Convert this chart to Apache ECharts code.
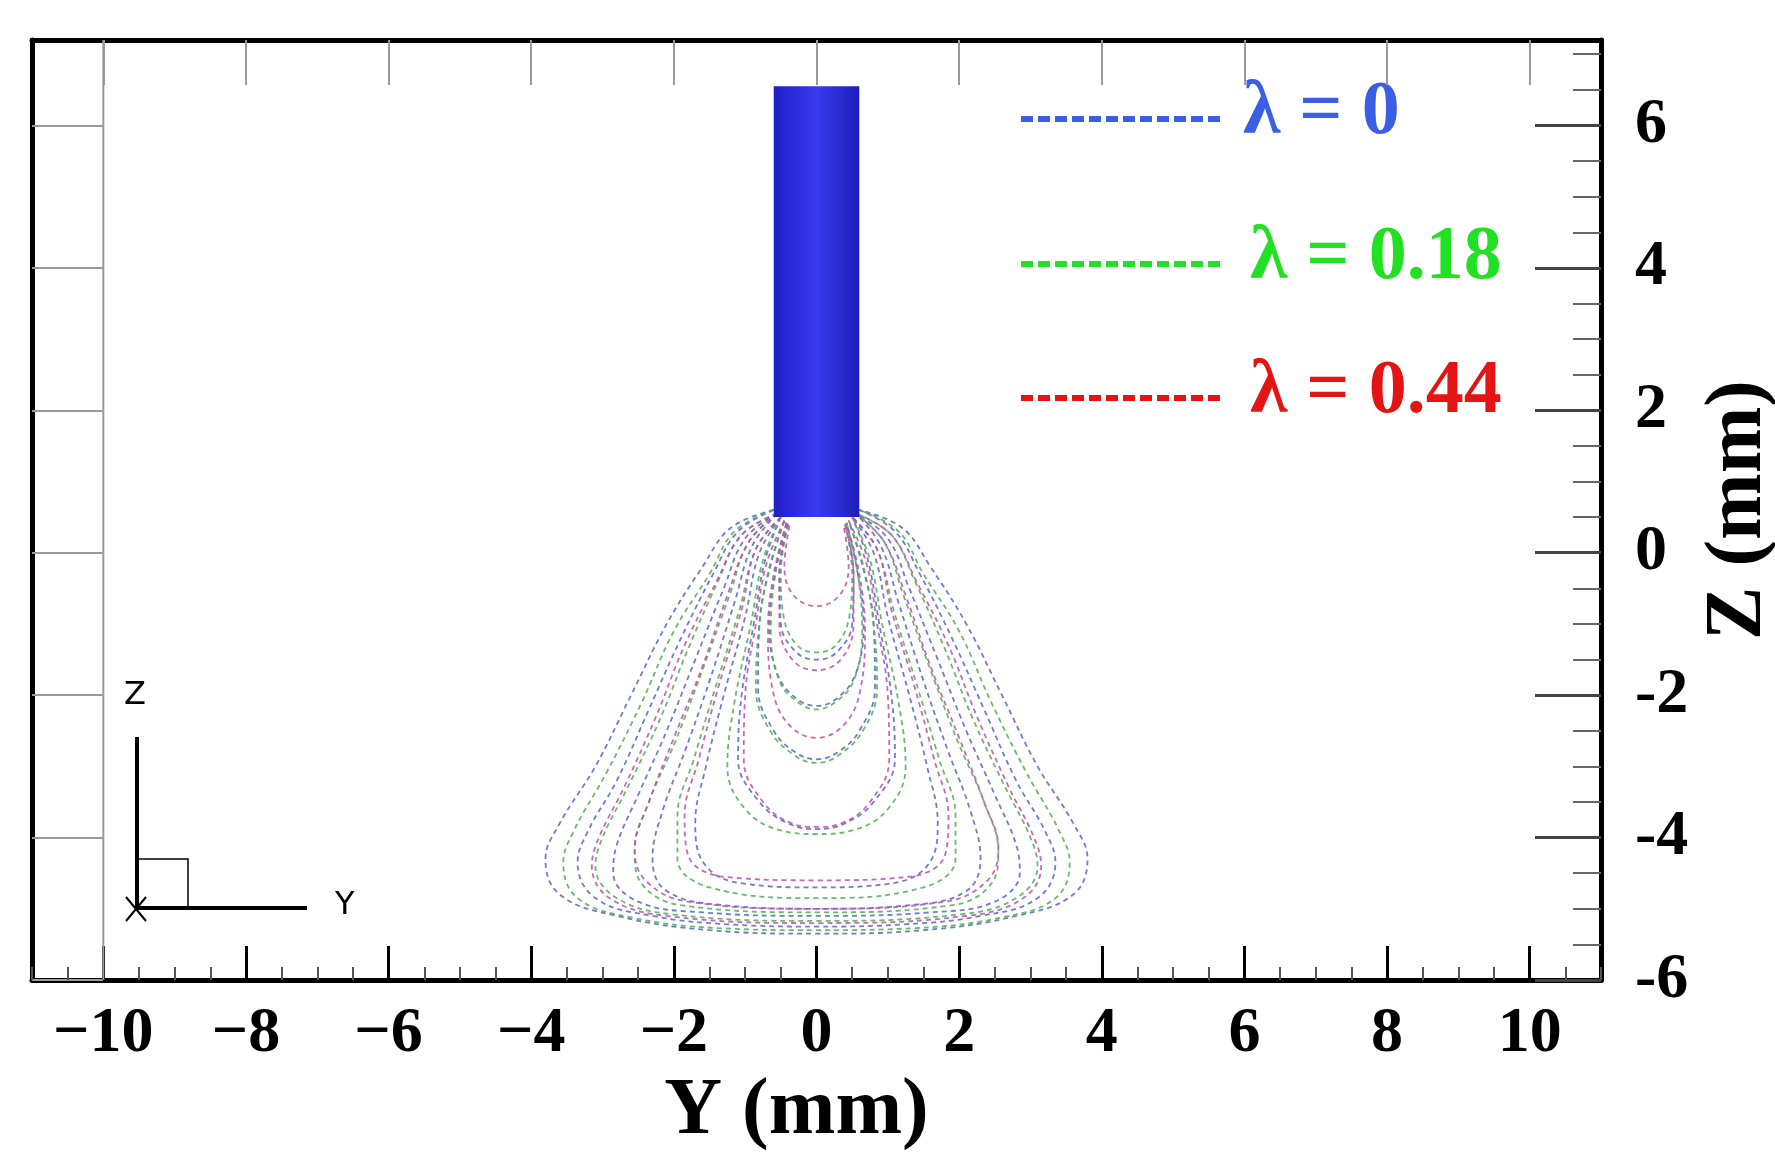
<!DOCTYPE html>
<html>
<head>
<meta charset="utf-8">
<script src="https://cdn.jsdelivr.net/npm/echarts@6/dist/echarts.min.js"></script>
<style>html,body{margin:0;padding:0;background:#fff}#main{width:1775px;height:1164px}</style>
</head>
<body>
<div id="main"></div>
<script>
// tick positions
var yTicks = [-10, -8, -6, -4, -2, 0, 2, 4, 6, 8, 10];
var zTicks = [-6, -4, -2, 0, 2, 4, 6];
var yMinor = [];
var zMinor = [];
for (let v = -11; v <= 11; v += 0.5) if (v % 2 != 0) yMinor.push(v);
for (let v = -6; v <= 7; v += 0.5) if (v % 2 != 0) zMinor.push(v);

// electrode rod (Y range, Z range)
var rodY = [-0.6, 0.6];
var rodZ = [0.5, 6.55];

// right half of each streamline, top -> bottom centre
var lam0 = [
	[[0.6,0.6],[1.2,0.35],[1.6,-0.2],[2.1,-1.0],[2.6,-2.0],[3.1,-3.0],[3.6,-3.8],[3.8,-4.3],[3.6,-4.8],[2.8,-5.1],[1.5,-5.3],[0,-5.35]],
	[[0.6,0.6],[1.1,0.3],[1.45,-0.3],[1.9,-1.2],[2.35,-2.2],[2.8,-3.2],[3.2,-3.9],[3.35,-4.35],[3.1,-4.85],[2.3,-5.1],[1.2,-5.22],[0,-5.25]],
	[[0.55,0.55],[1.0,0.2],[1.3,-0.5],[1.7,-1.5],[2.1,-2.5],[2.5,-3.4],[2.8,-4.1],[2.85,-4.5],[2.5,-4.9],[1.6,-5.05],[0,-5.1]],
	[[0.55,0.55],[0.9,0.1],[1.15,-0.7],[1.5,-1.8],[1.85,-2.8],[2.15,-3.6],[2.3,-4.3],[2.1,-4.75],[1.3,-4.95],[0,-5.0]],
	[[0.5,0.5],[0.8,0.0],[1.0,-0.9],[1.3,-2.0],[1.55,-3.0],[1.7,-3.8],[1.55,-4.4],[1.0,-4.65],[0,-4.7]],
	[[0.5,0.5],[0.72,-0.1],[0.88,-1.0],[1.05,-2.0],[1.1,-2.9],[0.8,-3.5],[0.4,-3.8],[0,-3.88]],
	[[0.45,0.45],[0.65,-0.2],[0.8,-1.0],[0.82,-1.9],[0.6,-2.5],[0.3,-2.8],[0,-2.9]],
	[[0.42,0.42],[0.58,-0.3],[0.66,-1.0],[0.55,-1.7],[0.28,-2.05],[0,-2.15]],
	[[0.4,0.4],[0.52,-0.3],[0.5,-1.0],[0.28,-1.4],[0,-1.5]]
];
var lam018 = [
	[[0.6,0.6],[1.15,0.3],[1.5,-0.3],[2.0,-1.1],[2.45,-2.1],[2.95,-3.1],[3.4,-3.9],[3.55,-4.35],[3.35,-4.85],[2.6,-5.12],[1.4,-5.27],[0,-5.3]],
	[[0.55,0.55],[1.05,0.25],[1.38,-0.4],[1.8,-1.35],[2.2,-2.35],[2.65,-3.3],[3.0,-4.0],[3.1,-4.4],[2.8,-4.85],[2.0,-5.08],[0,-5.17]],
	[[0.55,0.55],[0.95,0.15],[1.22,-0.6],[1.6,-1.65],[1.98,-2.65],[2.35,-3.5],[2.55,-4.2],[2.45,-4.65],[1.9,-4.95],[0,-5.05]],
	[[0.5,0.5],[0.85,0.05],[1.08,-0.8],[1.42,-1.9],[1.72,-2.9],[1.95,-3.7],[1.95,-4.3],[1.5,-4.7],[0,-4.85]],
	[[0.5,0.5],[0.75,-0.1],[0.92,-1.0],[1.15,-2.1],[1.25,-3.0],[1.0,-3.6],[0.5,-3.9],[0,-3.95]],
	[[0.45,0.45],[0.66,-0.2],[0.8,-1.0],[0.85,-1.9],[0.65,-2.5],[0.3,-2.85],[0,-2.95]],
	[[0.42,0.42],[0.58,-0.3],[0.64,-1.1],[0.52,-1.8],[0.26,-2.1],[0,-2.2]],
	[[0.4,0.4],[0.5,-0.3],[0.46,-0.9],[0.27,-1.3],[0,-1.4]]
];
var lam044 = [
	[[0.55,0.55],[1.05,0.25],[1.4,-0.4],[1.85,-1.3],[2.25,-2.3],[2.7,-3.3],[3.05,-4.0],[3.15,-4.4],[2.9,-4.85],[2.1,-5.1],[0,-5.2]],
	[[0.55,0.55],[0.95,0.15],[1.25,-0.6],[1.6,-1.6],[2.0,-2.6],[2.35,-3.5],[2.55,-4.15],[2.4,-4.6],[1.8,-4.9],[0,-5.0]],
	[[0.5,0.5],[0.85,0.05],[1.05,-0.8],[1.38,-1.9],[1.65,-2.9],[1.85,-3.7],[1.8,-4.25],[1.3,-4.55],[0,-4.6]],
	[[0.45,0.45],[0.7,-0.15],[0.85,-1.0],[1.0,-2.0],[1.02,-2.9],[0.75,-3.5],[0.35,-3.8],[0,-3.85]],
	[[0.42,0.42],[0.6,-0.3],[0.68,-1.1],[0.62,-1.9],[0.4,-2.4],[0,-2.6]],
	[[0.4,0.4],[0.52,-0.3],[0.52,-1.0],[0.34,-1.5],[0,-1.65]],
	[[0.38,0.38],[0.45,-0.2],[0.32,-0.6],[0,-0.75]]
];

var lamNames = ['λ = 0', 'λ = 0.18', 'λ = 0.44'];
var lineColors = ['#5565c8', '#4fae4f', '#c04fa8'];
var textColors = ['#3a5ee6', '#22e022', '#e41414'];

// mirror the half profile into a full U-shaped streamline
function fullCurve(half) {
	var left = half.map(function (p) { return [-p[0], p[1]]; });
	var right = half.slice(0, half.length - 1).reverse();
	return left.concat(right);
}

var series = [];
[lam0, lam018, lam044].forEach(function (set, k) {
	set.forEach(function (half) {
		series.push({
			type: 'line', xAxisIndex: 0, yAxisIndex: 0,
			data: fullCurve(half), smooth: 0.4, symbol: 'none', silent: true,
			lineStyle: { color: lineColors[k], width: 1.8, type: [5, 4], opacity: 0.85 }
		});
	});
});

series.push({
	type: 'custom', xAxisIndex: 0, yAxisIndex: 0,
	data: [[rodY[0], rodZ[0], rodY[1], rodZ[1]]],
	renderItem: function (params, api) {
		var p0 = api.coord([api.value(0), api.value(3)]);
		var p1 = api.coord([api.value(2), api.value(1)]);
		return {
			type: 'rect',
			shape: { x: p0[0], y: p0[1], width: p1[0] - p0[0], height: p1[1] - p0[1] },
			style: { fill: new echarts.graphic.LinearGradient(0, 0, 1, 0, [
				{ offset: 0, color: '#1e1ec8' }, { offset: 0.5, color: '#3a3af0' }, { offset: 1, color: '#1e1eb8' }]) }
		};
	},
	z: 5
});

// vertical gridline at Y = -10
series.push({
	type: 'line', xAxisIndex: 0, yAxisIndex: 0, symbol: 'none', silent: true,
	data: [[-10, -6], [-10, 7.2]], lineStyle: { color: '#9a9a9a', width: 2 }
});

var labelFont = { fontFamily: 'Liberation Serif', fontWeight: 'bold', fontSize: 64, color: '#000' };
var nameFont = { fontFamily: 'Liberation Serif', fontWeight: 'bold', fontSize: 80, color: '#000' };
var noLabel = { show: false };

var option = {
	animation: false,
	grid: { left: 32, right: 174, top: 40, bottom: 184, outerBoundsMode: 'none', containLabel: false },
	xAxis: [
		{
			type: 'value', min: -11, max: 11, position: 'bottom',
			axisLine: { onZero: false, lineStyle: { color: '#000', width: 5 } },
			axisTick: { inside: true, length: 34, customValues: yTicks, lineStyle: { color: '#000', width: 3 } },
			axisLabel: Object.assign({ customValues: yTicks, margin: 22,
				formatter: function (v) { return v < 0 ? '−' + (-v) : '' + v; } }, labelFont),
			splitLine: { show: false },
			name: 'Y (mm)', nameLocation: 'middle', nameGap: 92,
			nameTextStyle: Object.assign({ padding: [0, 40, 0, 0] }, nameFont)
		},
		{
			type: 'value', min: -11, max: 11, position: 'bottom',
			axisLine: { show: false, onZero: false },
			axisTick: { inside: true, length: 13, customValues: yMinor, lineStyle: { color: '#555', width: 2 } },
			axisLabel: noLabel, splitLine: { show: false }
		},
		{
			type: 'value', min: -11, max: 11, position: 'top',
			axisLine: { onZero: false, lineStyle: { color: '#000', width: 5 } },
			axisTick: { inside: true, length: 45, customValues: yTicks, lineStyle: { color: '#9a9a9a', width: 2 } },
			axisLabel: noLabel, splitLine: { show: false }
		}
	],
	yAxis: [
		{
			type: 'value', min: -6, max: 7.2, position: 'right',
			axisLine: { onZero: false, lineStyle: { color: '#000', width: 5 } },
			axisTick: { inside: true, length: 66, customValues: zTicks, lineStyle: { color: '#444', width: 3 } },
			axisLabel: Object.assign({ customValues: zTicks, margin: 34 }, labelFont),
			splitLine: { show: false },
			name: 'Z (mm)', nameLocation: 'middle', nameGap: 90, nameRotate: 90,
			nameTextStyle: nameFont
		},
		{
			type: 'value', min: -6, max: 7.2, position: 'right',
			axisLine: { show: false, onZero: false },
			axisTick: { inside: true, length: 28, customValues: zMinor, lineStyle: { color: '#666', width: 2 } },
			axisLabel: noLabel, splitLine: { show: false }
		},
		{
			type: 'value', min: -6, max: 7.2, position: 'left',
			axisLine: { onZero: false, lineStyle: { color: '#000', width: 5 } },
			axisTick: { inside: true, length: 71, customValues: zTicks, lineStyle: { color: '#9a9a9a', width: 2 } },
			axisLabel: noLabel, splitLine: { show: false }
		}
	],
	graphic: [],
	series: series
};

// legend entries
lamNames.forEach(function (name, k) {
	var y = [119, 264, 398][k];
	option.graphic.push({
		type: 'line', shape: { x1: 1021, y1: y, x2: 1222, y2: y },
		style: { stroke: textColors[k], lineWidth: 6, lineDash: [12, 5] }
	});
	option.graphic.push({
		type: 'text', left: [1243, 1250, 1250][k], top: y - 44,
		style: { text: name, fill: textColors[k], font: 'bold 76px "Liberation Serif"' }
	});
});

// axis triad in lower left corner
option.graphic.push(
	{ type: 'polyline', shape: { points: [[137, 737], [137, 908], [307, 908]] }, style: { stroke: '#000', lineWidth: 4, fill: null } },
	{ type: 'rect', shape: { x: 137, y: 859, width: 51, height: 49 }, style: { stroke: '#000', lineWidth: 1.5, fill: null } },
	{ type: 'line', shape: { x1: 126, y1: 897, x2: 146, y2: 921 }, style: { stroke: '#000', lineWidth: 2 } },
	{ type: 'line', shape: { x1: 146, y1: 897, x2: 126, y2: 921 }, style: { stroke: '#000', lineWidth: 2 } },
	{ type: 'text', left: 124, top: 680, style: { text: 'Z', fill: '#000', font: '32px "DejaVu Sans"' } },
	{ type: 'text', left: 335, top: 890, style: { text: 'Y', fill: '#000', font: '32px "DejaVu Sans"' } }
);

var myChart = echarts.init(document.getElementById('main'));
myChart.setOption(option);
</script>
</body>
</html>
